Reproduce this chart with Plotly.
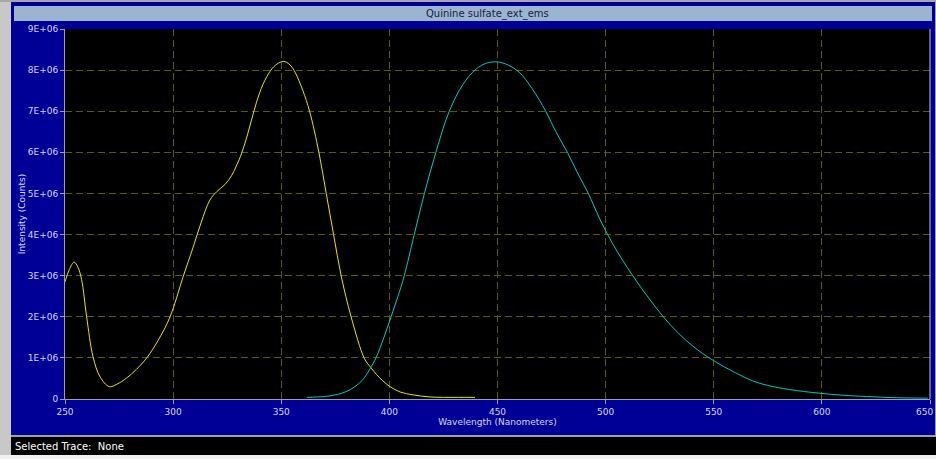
import plotly.graph_objects as go

# ---- data ----
ex_wl = [250, 252, 254.2, 256, 257.7, 260, 263, 266.2, 270.5, 274, 278.5, 283, 287.8, 293, 298.6,
         304.6, 309.3, 313, 317, 320.1, 324, 327, 329.5, 331.7, 334.5, 337.1, 340, 343.3, 346.5,
         349.4, 351, 352.5, 354.5, 356.4, 360, 363.1, 367.4, 370.8, 374.2, 377.7, 382.3, 388.5,
         391.5, 394, 397, 400.3, 405, 411, 418.8, 425, 432, 439.6]
ex_int = [2.85e6, 3.15e6, 3.33e6, 3.2e6, 2.9e6, 2.0e6, 1.02e6, 0.54e6, 0.3e6, 0.36e6, 0.51e6, 0.72e6,
          1.0e6, 1.42e6, 2.0e6, 2.97e6, 3.7e6, 4.3e6, 4.84e6, 5.04e6, 5.22e6, 5.43e6, 5.7e6, 5.98e6,
          6.45e6, 6.95e6, 7.45e6, 7.84e6, 8.08e6, 8.19e6, 8.21e6, 8.19e6, 8.1e6, 7.95e6, 7.5e6,
          7.0e6, 6.0e6, 5.0e6, 4.0e6, 3.0e6, 2.0e6, 0.98e6, 0.76e6, 0.6e6, 0.44e6, 0.3e6, 0.17e6,
          0.1e6, 0.05e6, 0.04e6, 0.04e6, 0.04e6]

em_wl = [361.8, 370, 374, 378, 382, 386, 388.5, 391, 393.8, 397.5, 400.8, 404, 406.9, 411.5,
         416.2, 421.5, 427.7, 434, 440, 445, 450, 455, 460, 466, 472.3, 477, 482.3, 487, 492, 497.3,
         503, 510, 520, 530, 540, 550, 560, 568, 575, 585, 599, 610, 620.7, 635, 649]
em_int = [0.04e6, 0.06e6, 0.09e6, 0.14e6, 0.23e6, 0.38e6, 0.52e6, 0.73e6, 1.0e6, 1.5e6, 2.0e6, 2.5e6,
          3.0e6, 4.0e6, 5.0e6, 6.0e6, 7.0e6, 7.65e6, 8.02e6, 8.17e6, 8.2e6, 8.12e6, 7.95e6, 7.55e6,
          7.0e6, 6.5e6, 6.0e6, 5.5e6, 5.0e6, 4.38e6, 3.8e6, 3.2e6, 2.45e6, 1.8e6, 1.3e6, 0.93e6,
          0.64e6, 0.44e6, 0.33e6, 0.23e6, 0.14e6, 0.09e6, 0.06e6, 0.03e6, 0.02e6]

x_ticks = [250, 300, 350, 400, 450, 500, 550, 600, 650]
y_ticks = [0, 1e6, 2e6, 3e6, 4e6, 5e6, 6e6, 7e6, 8e6, 9e6]
y_tick_labels = ["0", "1E+06", "2E+06", "3E+06", "4E+06", "5E+06", "6E+06", "7E+06", "8E+06", "9E+06"]

title_text = "Quinine sulfate_ext_ems"
status_text = "Selected Trace:  None"

# ---- geometry (pixels) ----
W, H = 936, 459
L, R, T, B = 65, 6, 29, 60
pw, ph = W - L - R, H - T - B


def px(x):
    return (x - L) / pw


def py(y):
    return (H - B - y) / ph


NAVY = "#000096"
TXT = "#d8d8f4"

fig = go.Figure()
fig.add_trace(go.Scatter(x=ex_wl, y=ex_int, mode="lines", line=dict(color="#e6e600", width=1),
                         line_shape="spline", showlegend=False, hoverinfo="skip"))
fig.add_trace(go.Scatter(x=em_wl, y=em_int, mode="lines", line=dict(color="#00c8c8", width=1),
                         line_shape="spline", showlegend=False, hoverinfo="skip"))

shapes = []


def rect(x0, y0, x1, y1, color, layer="below"):
    shapes.append(dict(type="rect", xref="paper", yref="paper", x0=px(x0), x1=px(x1),
                       y0=py(y1), y1=py(y0), fillcolor=color, line=dict(width=0), layer=layer))


rect(0, 0, 11, H, "#c8c8c8")
rect(0, 0, W, 2, "#a8a8a8")
rect(14, 6, 932, 21, "#9bb5d0")
rect(11, 435, W, 437, "#a0a0a0")
rect(11, 437, W, 455, "#000000")
rect(0, 455, W, H, "#f0f0f0")
rect(935, 0, W, 435, "#a0a0a0")
# right plot border
shapes.append(dict(type="line", xref="paper", yref="paper", x0=1, x1=1, y0=0, y1=1,
                   line=dict(color="#c8c8c8", width=1), layer="above"))

annotations = [
    dict(text=title_text, xref="paper", yref="paper", x=px(487), y=py(14), yanchor="middle",
         showarrow=False, font=dict(size=10, color="#1a1a40", family="DejaVu Sans")),
    dict(text=status_text, xref="paper", yref="paper", x=px(13), y=py(446), xanchor="left",
         yanchor="middle", showarrow=False,
         font=dict(size=10, color="#ffffff", family="DejaVu Sans")),
    # last x tick label (plotly drops it because it overflows the page edge)
    dict(text=str(x_ticks[-1]), xref="paper", yref="paper", x=px(935), y=py(405), yanchor="top",
         xanchor="right", showarrow=False, font=dict(size=9, color=TXT, family="DejaVu Sans")),
]

fig.update_layout(
    width=W, height=H,
    margin=dict(l=L, r=R, t=T, b=B),
    paper_bgcolor=NAVY, plot_bgcolor="#000000",
    font=dict(family="DejaVu Sans", size=9, color=TXT),
    shapes=shapes,
    annotations=annotations,
)
fig.update_xaxes(range=[250, 650], tickvals=x_ticks, ticks="outside", ticklen=4, tickcolor="#a0a0a0",
                 showline=True, linecolor="#a0a0a0", linewidth=1,
                 showgrid=True, gridcolor="#5c5c00", griddash="7px,4px", gridwidth=1, zeroline=False,
                 title=dict(text="Wavelength (Nanometers)", standoff=2, font=dict(size=9, color=TXT)),
                 tickfont=dict(size=9, color=TXT))
fig.update_yaxes(range=[0, 9e6], tickvals=y_ticks, ticktext=y_tick_labels, ticks="outside", ticklen=4,
                 tickcolor="#a0a0a0", showline=True, linecolor="#a0a0a0", linewidth=1,
                 showgrid=True, gridcolor="#5c5c00", griddash="7px,4px", gridwidth=1, zeroline=False,
                 title=dict(text="Intensity (Counts)", standoff=0, font=dict(size=9, color=TXT)),
                 tickfont=dict(size=9, color=TXT))

fig.write_html("out.html", config={"displayModeBar": False},
               post_script="document.body.style.margin='0';")
